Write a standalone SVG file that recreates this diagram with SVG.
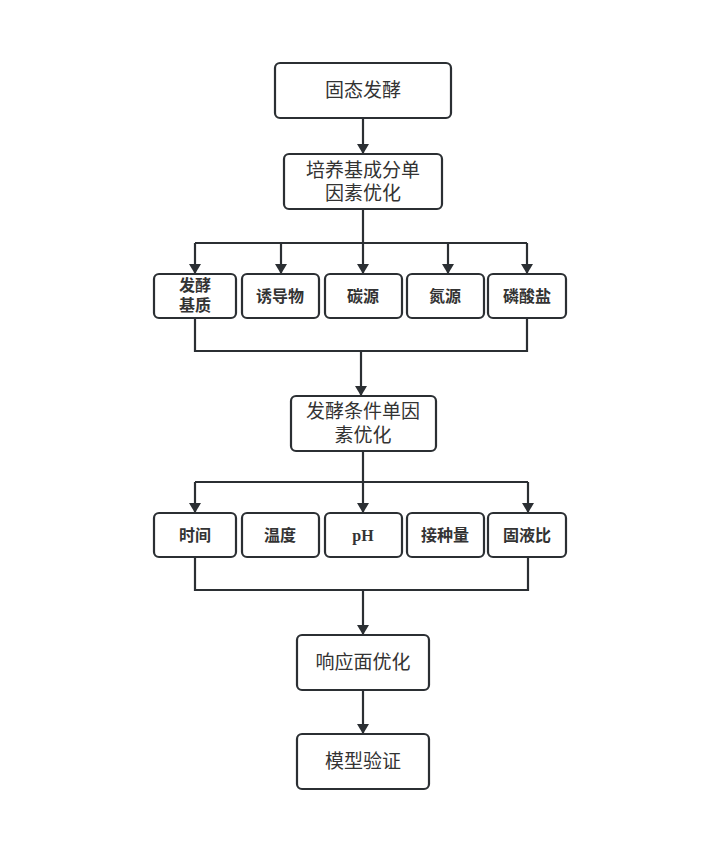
<svg xmlns="http://www.w3.org/2000/svg" width="703" height="851" viewBox="0 0 703 851">
<style>
.box{fill:#fff;stroke:#2b2f33;stroke-width:2.2}
.t{font-family:"Liberation Serif","Noto Sans CJK SC",serif;fill:#333;text-anchor:middle;dominant-baseline:central}
.big{font-size:19px}
.sm{font-size:16px;font-weight:bold}
.ln{fill:none;stroke:#2b2f33;stroke-width:2.2}
</style>
<defs>
<marker id="ah" markerWidth="10" markerHeight="12" refX="9" refY="5" orient="auto" markerUnits="userSpaceOnUse" viewBox="0 0 10 10" preserveAspectRatio="none">
<path d="M0,0 L10,5 L0,10 Z" fill="#2b2f33"/>
</marker>
</defs>
<rect width="703" height="851" fill="#fff"/>
<g id="connectors">
<path class="ln" d="M363,118 V153" marker-end="url(#ah)"/>
<path class="ln" d="M363,209 V243 M195,243 H527"/>
<path class="ln" d="M195,243 V273" marker-end="url(#ah)"/>
<path class="ln" d="M281,243 V273" marker-end="url(#ah)"/>
<path class="ln" d="M363,243 V273" marker-end="url(#ah)"/>
<path class="ln" d="M448,243 V273" marker-end="url(#ah)"/>
<path class="ln" d="M527,243 V273" marker-end="url(#ah)"/>
<path class="ln" d="M195,318 V351 H527 V318"/>
<path class="ln" d="M361,351 V395" marker-end="url(#ah)"/>
<path class="ln" d="M363,451 V482 M195,482 H528"/>
<path class="ln" d="M195,482 V512" marker-end="url(#ah)"/>
<path class="ln" d="M363,482 V512" marker-end="url(#ah)"/>
<path class="ln" d="M528,482 V512" marker-end="url(#ah)"/>
<path class="ln" d="M195,557 V590 H528 V557"/>
<path class="ln" d="M363,590 V634" marker-end="url(#ah)"/>
<path class="ln" d="M363,690 V733" marker-end="url(#ah)"/>
</g>
<g id="n1"><rect class="box" x="275" y="63" width="176" height="55" rx="5"/><text class="t big" x="363" y="90">固态发酵</text></g>
<g id="n2"><rect class="box" x="284" y="154" width="158" height="55" rx="5"/><text class="t big" x="363" y="170">培养基成分单</text><text class="t big" x="363" y="193">因素优化</text></g>
<g id="r1a"><rect class="box" x="154" y="274" width="82" height="44" rx="5"/><text class="t sm" x="195" y="285">发酵</text><text class="t sm" x="195" y="305">基质</text></g>
<g id="r1b"><rect class="box" x="242" y="274" width="77" height="44" rx="5"/><text class="t sm" x="280" y="296">诱导物</text></g>
<g id="r1c"><rect class="box" x="325" y="274" width="77" height="44" rx="5"/><text class="t sm" x="363" y="296">碳源</text></g>
<g id="r1d"><rect class="box" x="407" y="274" width="77" height="44" rx="5"/><text class="t sm" x="445" y="296">氮源</text></g>
<g id="r1e"><rect class="box" x="488" y="274" width="78" height="44" rx="5"/><text class="t sm" x="527" y="296">磷酸盐</text></g>
<g id="n3"><rect class="box" x="291" y="396" width="145" height="55" rx="5"/><text class="t big" x="363" y="411">发酵条件单因</text><text class="t big" x="363" y="435">素优化</text></g>
<g id="r2a"><rect class="box" x="154" y="513" width="82" height="44" rx="5"/><text class="t sm" x="195" y="535">时间</text></g>
<g id="r2b"><rect class="box" x="242" y="513" width="77" height="44" rx="5"/><text class="t sm" x="280" y="535">温度</text></g>
<g id="r2c"><rect class="box" x="325" y="513" width="77" height="44" rx="5"/><text class="t sm" x="363" y="535">pH</text></g>
<g id="r2d"><rect class="box" x="407" y="513" width="77" height="44" rx="5"/><text class="t sm" x="445" y="535">接种量</text></g>
<g id="r2e"><rect class="box" x="488" y="513" width="78" height="44" rx="5"/><text class="t sm" x="527" y="535">固液比</text></g>
<g id="n4"><rect class="box" x="297" y="635" width="132" height="55" rx="5"/><text class="t big" x="363" y="662">响应面优化</text></g>
<g id="n5"><rect class="box" x="297" y="734" width="132" height="55" rx="5"/><text class="t big" x="363" y="761">模型验证</text></g>
</svg>
